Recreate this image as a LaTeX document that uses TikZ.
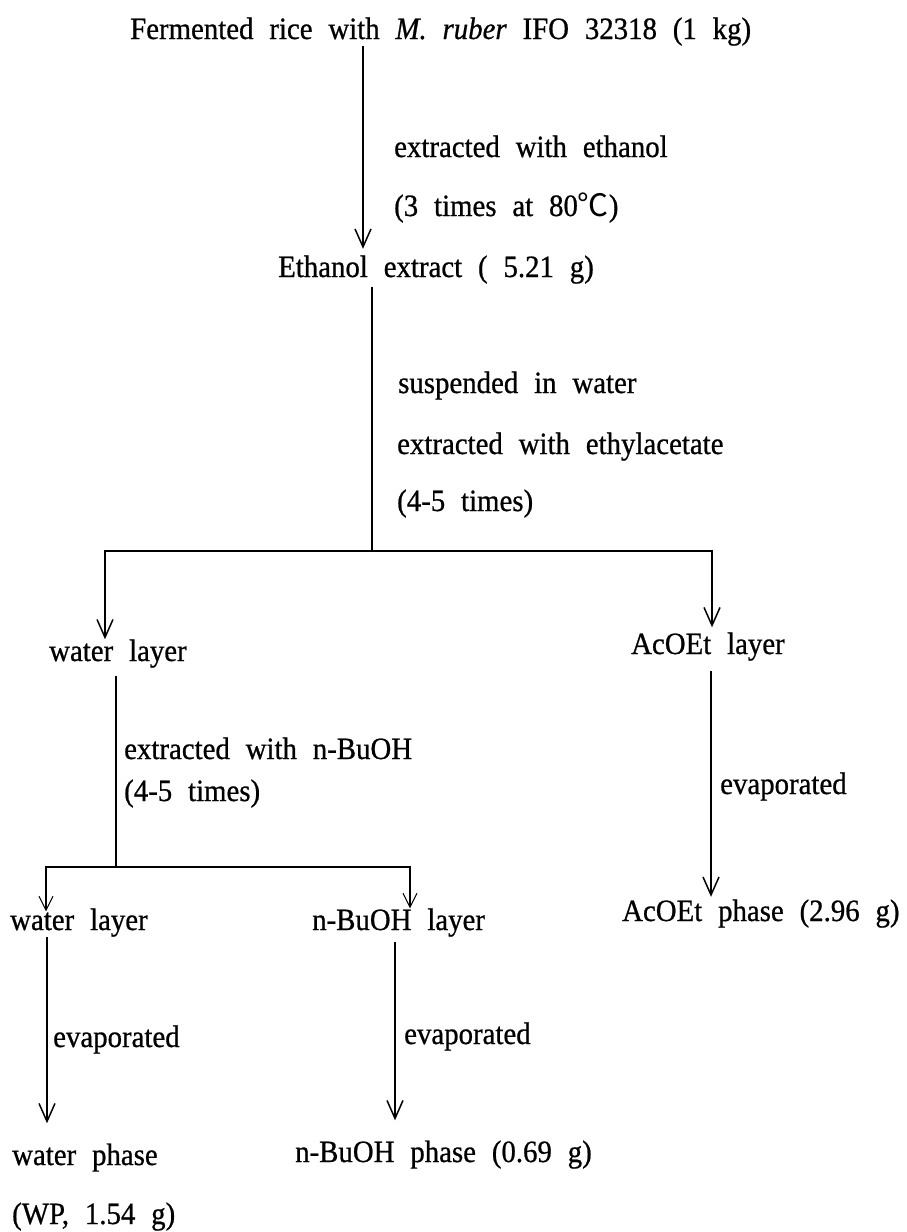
\documentclass[tikz,border=0pt]{standalone}
\usepackage{fontspec}
\setmainfont{Liberation Serif}[WordSpace=2.2,FakeStretch=0.93,FakeBold=0.7]
\newfontfamily\cjkfont{Noto Sans CJK KR}
\usetikzlibrary{arrows.meta}
\usetikzlibrary{positioning}

\begin{document}
\begin{tikzpicture}[x=1pt,y=-1pt,
  lbl/.style={inner sep=0pt,anchor=base west,
    font=\fontsize{31}{37}\selectfont},
  ln/.style={line width=1.1pt},
  arr/.style={ln,-{Straight Barb[length=18pt,width=16pt,line width=1.5pt]}},
  sarr/.style={ln,-{Straight Barb[length=14pt,width=14pt,line width=1pt]}}
]
  \useasboundingbox[fill=white] (0,0) rectangle (907,1232);

  % texts
  \node[lbl] (rice) at (130,39)
    {Fermented rice with \textit{M. ruber} IFO 32318 (1 kg)};
  \node[lbl] (ethA) at (394,157) {extracted with ethanol};
  \node[lbl] (ethB) at (394,216) {(3 times at 80{\cjkfont ℃})};
  \node[lbl] (etext) at (278,277) {Ethanol extract ( 5.21 g)};
  \node[lbl] (susA) at (398,393) {suspended in water};
  \node[lbl] (susB) at (397,454) {extracted with ethylacetate};
  \node[lbl] (susC) at (397,511) {(4-5 times)};
  \node[lbl] (wlay) at (49,661) {water layer};
  \node[lbl] (aclay) at (631,654) {AcOEt layer};
  \node[lbl] (buA) at (124,759) {extracted with n-BuOH};
  \node[lbl] (buB) at (124,801) {(4-5 times)};
  \node[lbl] (evA) at (720,794) {evaporated};
  \node[lbl] (wlay2) at (10,930) {water layer};
  \node[lbl] (blay) at (312,930) {n-BuOH layer};
  \node[lbl] (acph) at (622,921) {AcOEt phase (2.96 g)};
  \node[lbl] (evB) at (53,1047) {evaporated};
  \node[lbl] (evC) at (404,1044) {evaporated};
  \node[lbl] (wph) at (12,1165) {water phase};
  \node[lbl] (wpamt) at (12,1224) {(WP, 1.54 g)};
  \node[lbl] (bph) at (295,1162) {n-BuOH phase (0.69 g)};

  % branch points
  \coordinate (sp1) at (372,551);
  \coordinate (sp2) at (116,867);

  % connectors
  \draw[arr,shorten >=6.5pt] (rice.south -| 363,0) -- (etext.north -| 363,0);
  \draw[ln,shorten <=3pt] (etext.south -| sp1) -- (sp1);
  \draw[arr] (sp1) -| (wlay.north -| 105,0);
  \draw[arr,shorten >=5pt] (sp1) -| (aclay.north -| 712,0);
  \draw[ln,shorten <=8pt] (wlay.south -| sp2) -- (sp2);
  \draw[sarr,shorten >=-3pt] (sp2) -| (wlay2.north -| 46,0);
  \draw[sarr] (sp2) -| (blay.north -| 410,0);
  \draw[arr,shorten >=20pt] (wlay2.south -| 47,0) -- (wph.north -| 47,0);
  \draw[arr,shorten <=5pt,shorten >=20pt] (blay.south -| 395,0) -- (bph.north -| 395,0);
  \draw[arr,shorten <=10pt,shorten >=2.5pt] (aclay.south -| 711,0) -- (acph.north -| 711,0);
\end{tikzpicture}
\end{document}
